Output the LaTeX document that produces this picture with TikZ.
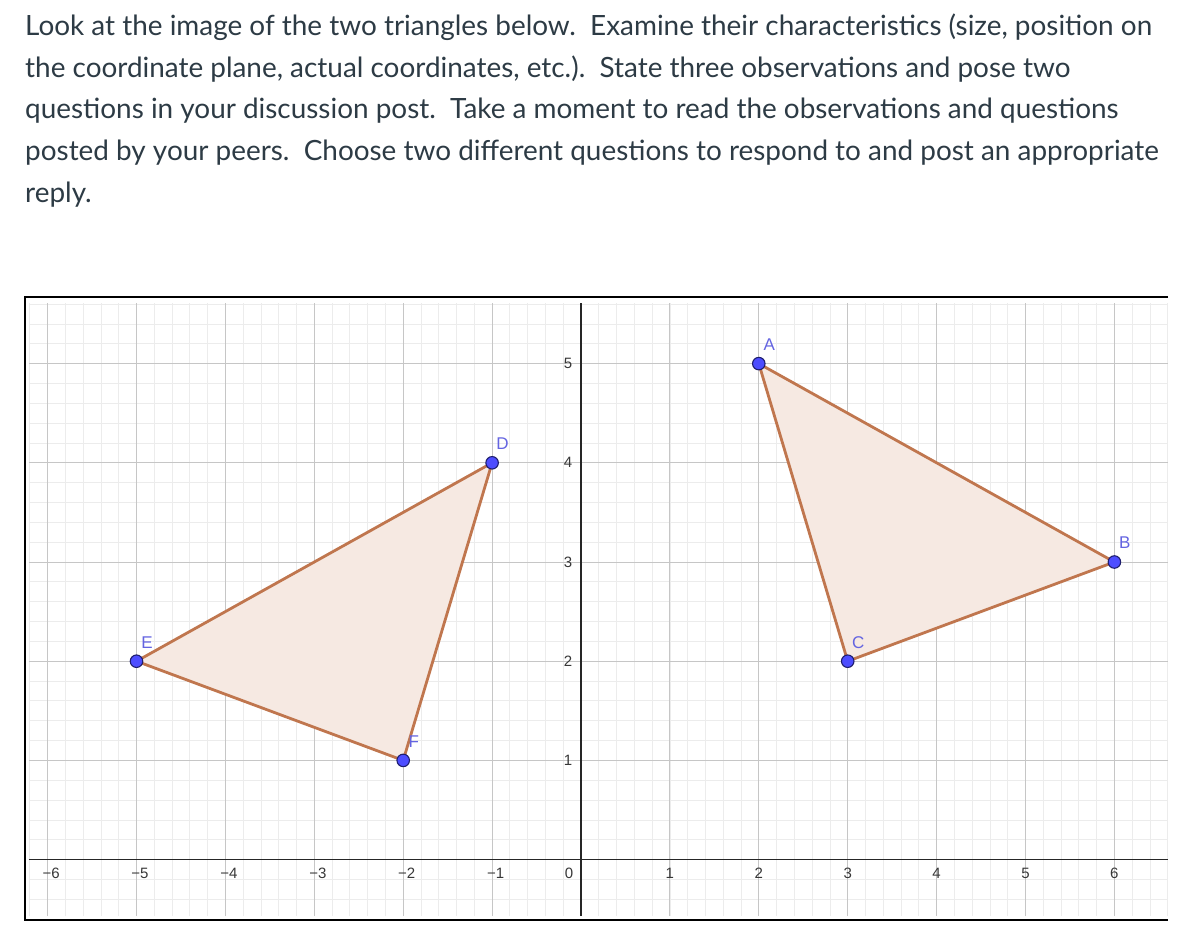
\documentclass[tikz,border=0pt]{standalone}
\usepackage{fontspec}
\setmainfont{Lato}
\newfontfamily\axfont{Liberation Sans}
\definecolor{txt}{RGB}{45,59,69}
\definecolor{majgrid}{RGB}{198,198,198}
\definecolor{mingrid}{RGB}{236,236,236}
\definecolor{edgecol}{RGB}{192,118,78}
\definecolor{fillcol}{RGB}{246,233,226}
\definecolor{ptfill}{RGB}{77,77,255}
\definecolor{ptdraw}{RGB}{30,30,110}
\definecolor{ptlabcol}{RGB}{100,100,225}
\definecolor{axlab}{RGB}{55,55,55}
\begin{document}
\begin{tikzpicture}[x=1pt,y=-1pt,
  para/.style={anchor=base west, inner sep=0pt, font=\fontsize{27.9}{32}\selectfont, text=txt},
  minorline/.style={draw=mingrid, line width=0.8pt},
  majorline/.style={draw=majgrid, line width=1pt},
  axisline/.style={draw=black!85, line width=1.3pt},
  axl/.style={inner sep=0pt, font=\axfont\fontsize{15}{17}\selectfont, text=axlab},
  tri/.style={draw=edgecol, line width=2.8pt, line join=round, fill=fillcol},
  ptnode/.style={circle, fill=ptfill, draw=ptdraw, line width=1.1pt, minimum size=12.5pt, inner sep=0pt},
  ptlab/.style={inner sep=0pt, font=\axfont\fontsize{17}{19}\selectfont, text=ptlabcol},
  frameline/.style={draw=black, line width=1.6pt}]
\fill[white] (0,0) rectangle (1200,940);
\useasboundingbox (0,0) rectangle (1200,940);

\node[para] (l1) at (25,35.5) {Look at the image of the two triangles below.\ \ Examine their characteristics (size, position on};
\node[para] (l2) at (25,77.2) {the coordinate plane, actual coordinates, etc.).\ \ State three observations and pose two};
\node[para] (l3) at (25,118.9) {questions in your discussion post.\ \ Take a moment to read the observations and questions};
\node[para] (l4) at (25,160.6) {posted by your peers.\ \ Choose two different questions to respond to and post an appropriate};
\node[para] (l5) at (25,202.3) {reply.};

\begin{scope}[shift={(581pt,-859.6pt)}, x=88.9pt, y=99.2pt]
  % minor grid
  \foreach \i in {-31,...,33} \draw[minorline] (\i/5,-0.569) -- (\i/5,5.61);
  \foreach \j in {-2,...,28} \draw[minorline] (-6.21,\j/5) -- (6.60,\j/5);
  % major grid
  \foreach \i in {-6,...,6} \draw[majorline] (\i,-0.569) -- (\i,5.61);
  \foreach \j in {1,...,5} \draw[majorline] (-6.21,\j) -- (6.60,\j);
  % axes
  \draw[axisline] (-6.21,0) -- (6.60,0);
  \draw[axisline] (0,-0.569) -- (0,5.61);
  % tick labels
  \foreach \v in {1,...,6} \node[axl] (xn\v) at ([shift={(3.5pt,-13.5pt)}]-\v,0) {−\v};
  \foreach \v in {1,...,6} \node[axl] (xp\v) at ([shift={(0pt,-13.5pt)}]\v,0) {\v};
  \node[axl] (x0) at ([shift={(-12pt,-13.5pt)}]0,0) {0};
  \foreach \v in {1,...,5} \node[axl, anchor=east] (yp\v) at ([shift={(-8.5pt,0pt)}]0,\v) {\v};
  % points
  \coordinate (A) at (2,5);
  \coordinate (B) at (6,3);
  \coordinate (C) at (3,2);
  \coordinate (D) at (-1,4);
  \coordinate (E) at (-5,2);
  \coordinate (F) at (-2,1);
  \draw[tri] (A) -- (B) -- (C) -- cycle;
  \draw[tri] (D) -- (E) -- (F) -- cycle;
  \foreach \p in {A,B,C,D,E,F} \node[ptnode] (pt\p) at (\p) {};
  \foreach \p in {A,B,C,D,E,F} \node[ptlab] (lab\p) at ([shift={(10.5pt,19pt)}]\p) {\p};
\end{scope}

\draw[frameline] (1168,297) -- (25,297) -- (25,920) -- (1168,920);
\end{tikzpicture}
\end{document}
